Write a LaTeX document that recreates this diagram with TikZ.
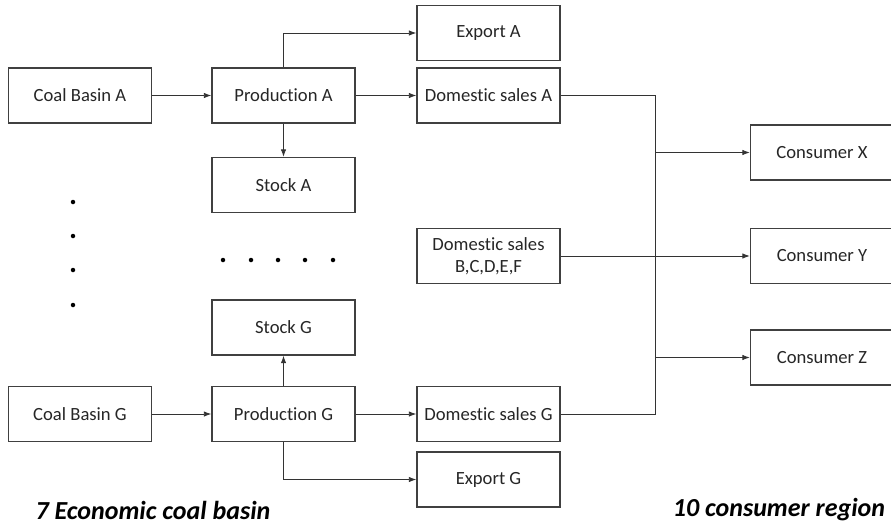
\documentclass[tikz,border=0pt]{standalone}
\usepackage{fontspec}
\setmainfont{Carlito}[Ligatures={NoCommon}]
\usetikzlibrary{arrows.meta}
\begin{document}
\begin{tikzpicture}[x=0.02cm,y=-0.02cm]
        \tikzstyle{every node}=[font=\fontsize{10.6}{12.5}\selectfont,text=black!85]
        \tikzstyle{box}=[draw=black!75,line width=0.8pt,minimum width=2.86cm,minimum height=1.1cm,inner sep=1pt,align=center]
        \tikzstyle{flow}=[-{Latex[length=1.5mm,width=1.1mm]},draw=black!80,line width=0.5pt]
        \tikzstyle{wire}=[draw=black!80,line width=0.5pt]
        \tikzstyle{dot}=[circle,fill=black,inner sep=0pt,minimum size=0.9mm]
        \tikzstyle{caption}=[font=\bfseries\itshape\fontsize{14.8}{17}\selectfont,text=black]
        \useasboundingbox (0,0) rectangle (891,525);
        % coal basins, production, stocks
        \node[box] (basinA) at (80,95.5) {Coal Basin A};
        \node[box] (prodA) at (283.5,95.5) {Production A};
        \node[box] (stockA) at (283.5,185) {Stock A};
        \node[box] (stockG) at (283.5,327.5) {Stock G};
        \node[box] (basinG) at (80,414) {Coal Basin G};
        \node[box] (prodG) at (283.5,414) {Production G};
        % sales and export
        \node[box] (expA) at (488.5,33) {Export A};
        \node[box] (domA) at (488.5,95.5) {Domestic sales A};
        \node[box] (domBF) at (488.5,256) {Domestic sales\\B,C,D,E,F};
        \node[box] (domG) at (488.5,414) {Domestic sales G};
        \node[box] (expG) at (488.5,479.5) {Export G};
        % consumer regions
        \node[box] (conX) at (822,152.5) {Consumer X};
        \node[box] (conY) at (822,256) {Consumer Y};
        \node[box] (conZ) at (822,357.5) {Consumer Z};
        % dots
        \foreach \y in {202,236,270,305} \node[dot] (vdot\y) at (73,\y) {};
        \foreach \x in {223,251,278,305,333} \node[dot] (hdot\x) at (\x,260) {};
        % flows
        \draw[flow] (basinA) -- (prodA);
        \draw[flow] (prodA) -- (domA);
        \draw[flow] (prodA) -- (stockA);
        \draw[flow] (prodA.north) |- (expA);
        \draw[flow] (basinG) -- (prodG);
        \draw[flow] (prodG) -- (domG);
        \draw[flow] (prodG) -- (stockG);
        \draw[flow] (prodG.south) |- (expG);
        \coordinate (jtop) at (655,95.5);
        \coordinate (jbot) at (655,414);
        \draw[wire] (domA.east) -- (jtop) -- (jbot) -- (domG.east);
        \draw[flow] (jtop |- conX) -- (conX);
        \draw[flow] (domBF) -- (conY);
        \draw[flow] (jtop |- conZ) -- (conZ);
        % captions
        \node[caption] (lblBasin) at (153,510) {7 Economic coal basin};
        \node[caption] (lblRegion) at (779,510) {10 consumer region};
    \end{tikzpicture}
\end{document}
